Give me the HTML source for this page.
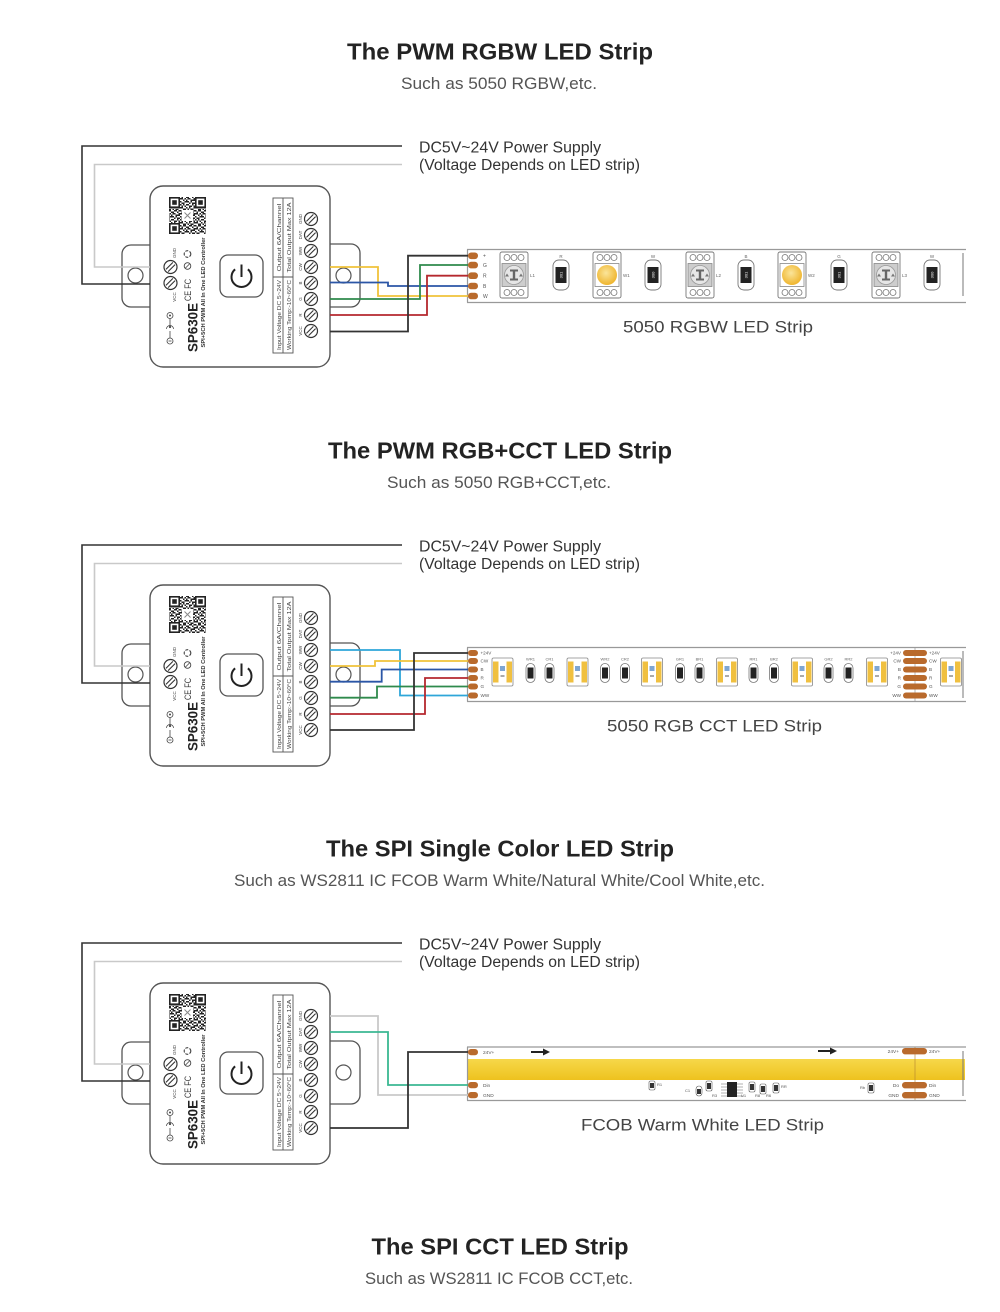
<!DOCTYPE html>
<html><head><meta charset="utf-8"><style>html,body{margin:0;padding:0;background:#fff}svg{display:block}</style></head>
<body>
<svg width="1000" height="1312" viewBox="0 0 1000 1312" xmlns="http://www.w3.org/2000/svg" font-family="'Liberation Sans', Arial, sans-serif">
<defs>
<pattern id="qr" width="15" height="15" patternUnits="userSpaceOnUse">
<rect width="15" height="15" fill="#fff"/>
<path fill="#222" d="M0 0h1.5v1.5h-1.5z M3 0h3v1.5h-3z M9 0h3v1.5h-3z M13.5 0h1.5v1.5h-1.5z
M1.5 1.5h1.5v1.5h-1.5z M6 1.5h3v1.5h-3z M12 1.5h1.5v1.5h-1.5z
M0 3h3v1.5h-3z M4.5 3h1.5v1.5h-1.5z M7.5 3h3v1.5h-3z M13.5 3h1.5v1.5h-1.5z
M3 4.5h1.5v1.5h-1.5z M6 4.5h1.5v1.5h-1.5z M10.5 4.5h4.5v1.5h-4.5z
M0 6h1.5v1.5h-1.5z M4.5 6h4.5v1.5h-4.5z M10.5 6h1.5v1.5h-1.5z
M1.5 7.5h3v1.5h-3z M9 7.5h1.5v1.5h-1.5z M12 7.5h3v1.5h-3z
M0 9h1.5v1.5h-1.5z M3 9h1.5v1.5h-1.5z M6 9h3v1.5h-3z M12 9h1.5v1.5h-1.5z
M1.5 10.5h1.5v1.5h-1.5z M4.5 10.5h1.5v1.5h-1.5z M9 10.5h3v1.5h-3z M13.5 10.5h1.5v1.5h-1.5z
M0 12h3v1.5h-3z M6 12h1.5v1.5h-1.5z M9 12h1.5v1.5h-1.5z M13.5 12h1.5v1.5h-1.5z
M3 13.5h3v1.5h-3z M7.5 13.5h1.5v1.5h-1.5z M10.5 13.5h3v1.5h-3z"/>
</pattern>
<radialGradient id="yel" cx="0.45" cy="0.4" r="0.6"><stop offset="0" stop-color="#fbe59a"/><stop offset="1" stop-color="#efb52e"/></radialGradient>
<linearGradient id="band" x1="0" y1="0" x2="0" y2="1"><stop offset="0" stop-color="#f6d84a"/><stop offset="1" stop-color="#eec21e"/></linearGradient>
</defs>
<rect width="1000" height="1312" fill="#fff"/>

<!-- ===== Titles ===== -->
<g font-weight="bold" fill="#232323" font-size="23" text-anchor="middle">
<text x="500" y="59.5" textLength="306" lengthAdjust="spacingAndGlyphs">The PWM RGBW LED Strip</text>
<text x="500" y="458.5" textLength="344" lengthAdjust="spacingAndGlyphs">The PWM RGB+CCT LED Strip</text>
<text x="500" y="856.5" textLength="348" lengthAdjust="spacingAndGlyphs">The SPI Single Color LED Strip</text>
<text x="500" y="1254.5" textLength="257" lengthAdjust="spacingAndGlyphs">The SPI CCT LED Strip</text>
</g>
<g fill="#555" font-size="16.5" text-anchor="middle">
<text x="499" y="89" textLength="196" lengthAdjust="spacingAndGlyphs">Such as 5050 RGBW,etc.</text>
<text x="499" y="488" textLength="224" lengthAdjust="spacingAndGlyphs">Such as 5050 RGB+CCT,etc.</text>
<text x="499.5" y="886" textLength="531" lengthAdjust="spacingAndGlyphs">Such as WS2811 IC FCOB Warm White/Natural White/Cool White,etc.</text>
<text x="499" y="1284" textLength="268" lengthAdjust="spacingAndGlyphs">Such as WS2811 IC FCOB CCT,etc.</text>
</g>

<!-- Power supply texts -->
<g fill="#333" font-size="15.5">
<text x="419" y="152.5" textLength="182" lengthAdjust="spacingAndGlyphs">DC5V~24V Power Supply</text>
<text x="419" y="170" textLength="221" lengthAdjust="spacingAndGlyphs">(Voltage Depends on LED strip)</text>
<text x="419" y="551.5" textLength="182" lengthAdjust="spacingAndGlyphs">DC5V~24V Power Supply</text>
<text x="419" y="569" textLength="221" lengthAdjust="spacingAndGlyphs">(Voltage Depends on LED strip)</text>
<text x="419" y="949.5" textLength="182" lengthAdjust="spacingAndGlyphs">DC5V~24V Power Supply</text>
<text x="419" y="967" textLength="221" lengthAdjust="spacingAndGlyphs">(Voltage Depends on LED strip)</text>
</g>

<!-- Strip labels -->
<g fill="#444" font-size="17">
<text x="623" y="332.5" textLength="190" lengthAdjust="spacingAndGlyphs">5050 RGBW LED Strip</text>
<text x="607" y="731.5" textLength="215" lengthAdjust="spacingAndGlyphs">5050 RGB CCT LED Strip</text>
<text x="581" y="1130.5" textLength="243" lengthAdjust="spacingAndGlyphs">FCOB Warm White LED Strip</text>
</g>

<!-- ===== Controller section 1 ===== -->
<g id="c1">
<rect x="122" y="245" width="40" height="62" rx="9" fill="#fff" stroke="#555" stroke-width="1.3"/>
<rect x="318" y="244" width="42" height="63" rx="9" fill="#fff" stroke="#555" stroke-width="1.3"/>
<circle cx="135.5" cy="275.5" r="7.5" fill="#fff" stroke="#555" stroke-width="1.2"/>
<circle cx="343.5" cy="275.5" r="7.5" fill="#fff" stroke="#555" stroke-width="1.2"/>
<rect x="150" y="186" width="180" height="181" rx="13" fill="#fff" stroke="#555" stroke-width="1.4"/>
<rect x="169" y="197" width="37" height="37" fill="url(#qr)"/>
<rect x="169" y="197" width="11" height="11" fill="#222"/><rect x="170.6" y="198.6" width="7.8" height="7.8" fill="#fff"/><rect x="172.2" y="200.2" width="4.6" height="4.6" fill="#222"/>
<rect x="195" y="197" width="11" height="11" fill="#222"/><rect x="196.6" y="198.6" width="7.8" height="7.8" fill="#fff"/><rect x="198.2" y="200.2" width="4.6" height="4.6" fill="#222"/>
<rect x="169" y="223" width="11" height="11" fill="#222"/><rect x="170.6" y="224.6" width="7.8" height="7.8" fill="#fff"/><rect x="172.2" y="226.2" width="4.6" height="4.6" fill="#222"/>
<rect x="182" y="210" width="11" height="11" fill="#fff"/>
<path d="M184.5 212.5 l6 6 M190.5 212.5 l-6 6" stroke="#888" stroke-width="1"/>
<rect x="220" y="255" width="43" height="42" rx="8" fill="#fff" stroke="#555" stroke-width="1.3"/>
<path d="M235.1 269.3 A10 10 0 1 0 247.9 269.3" fill="none" stroke="#222" stroke-width="2"/>
<line x1="241.5" y1="264.5" x2="241.5" y2="277" stroke="#222" stroke-width="2"/>
<g fill="#fff" stroke="#333" stroke-width="1.2">
<circle cx="170.5" cy="267" r="6.5"/><circle cx="170.5" cy="283" r="6.5"/>
</g>
<path d="M165.9 269.4 L172.9 262.4 M168.1 271.6 L175.1 264.6 M165.9 285.4 L172.9 278.4 M168.1 287.6 L175.1 280.6" stroke="#333" stroke-width="1.1"/>
<g fill="#444" font-size="4.5" text-anchor="middle">
<text transform="translate(176,253) rotate(-90)">GND</text>
<text transform="translate(176,297) rotate(-90)">VCC</text>
</g>
<text transform="translate(191,290) rotate(-90)" font-size="9" fill="#333" text-anchor="middle" textLength="22" lengthAdjust="spacingAndGlyphs">CE FC</text>
<circle cx="187.5" cy="266" r="3.3" fill="none" stroke="#444" stroke-width="0.9"/>
<path d="M185.5 268 l4 -4" stroke="#444" stroke-width="0.8"/>
<circle cx="187.5" cy="254" r="3.3" fill="none" stroke="#444" stroke-width="1.1" stroke-dasharray="3 1.4"/>
<g stroke="#444" stroke-width="0.8" fill="none">
<circle cx="170" cy="341" r="3"/><line x1="168.5" y1="341" x2="171.5" y2="341"/>
<line x1="170" y1="338" x2="170" y2="331"/>
<path d="M166.5 329 A3.5 3.5 0 0 1 173.5 329"/>
<line x1="170" y1="327" x2="170" y2="318.5"/>
<circle cx="170" cy="315.5" r="3"/>
</g>
<circle cx="170" cy="327" r="1.1" fill="#444"/><circle cx="170" cy="315.5" r="1" fill="#444"/>
<text transform="translate(197.5,327.5) rotate(-90)" font-size="14" font-weight="bold" fill="#222" text-anchor="middle" textLength="49" lengthAdjust="spacingAndGlyphs">SP630E</text>
<text transform="translate(205,292.5) rotate(-90)" font-size="5.2" font-weight="bold" fill="#333" text-anchor="middle" textLength="110" lengthAdjust="spacingAndGlyphs">SPI+5CH PWM All In One LED Controller</text>
<rect x="273" y="198" width="20" height="155" fill="none" stroke="#555" stroke-width="0.9"/>
<line x1="283" y1="198" x2="283" y2="353" stroke="#555" stroke-width="0.9"/>
<line x1="273" y1="277" x2="293" y2="277" stroke="#555" stroke-width="0.9"/>
<g fill="#444" font-size="5.5" text-anchor="middle">
<text transform="translate(281,237.5) rotate(-90)" textLength="68" lengthAdjust="spacingAndGlyphs">Output 6A/Channel</text>
<text transform="translate(291,237.5) rotate(-90)" textLength="70" lengthAdjust="spacingAndGlyphs">Total Output Max 12A</text>
<text transform="translate(281,315) rotate(-90)" textLength="70" lengthAdjust="spacingAndGlyphs">Input Voltage DC 5~24V</text>
<text transform="translate(291,315) rotate(-90)" textLength="70" lengthAdjust="spacingAndGlyphs">Working Temp:-10~60°C</text>
</g>
<g fill="#fff" stroke="#333" stroke-width="1.2">
<circle cx="311" cy="219" r="6.5"/><circle cx="311" cy="235" r="6.5"/><circle cx="311" cy="251" r="6.5"/><circle cx="311" cy="267" r="6.5"/>
<circle cx="311" cy="283" r="6.5"/><circle cx="311" cy="299" r="6.5"/><circle cx="311" cy="315" r="6.5"/><circle cx="311" cy="331" r="6.5"/>
</g>
<g stroke="#333" stroke-width="1.1">
<path d="M306.4 221.4 L313.4 214.4 M308.6 223.6 L315.6 216.6"/>
<path d="M306.4 237.4 L313.4 230.4 M308.6 239.6 L315.6 232.6"/>
<path d="M306.4 253.4 L313.4 246.4 M308.6 255.6 L315.6 248.6"/>
<path d="M306.4 269.4 L313.4 262.4 M308.6 271.6 L315.6 264.6"/>
<path d="M306.4 285.4 L313.4 278.4 M308.6 287.6 L315.6 280.6"/>
<path d="M306.4 301.4 L313.4 294.4 M308.6 303.6 L315.6 296.6"/>
<path d="M306.4 317.4 L313.4 310.4 M308.6 319.6 L315.6 312.6"/>
<path d="M306.4 333.4 L313.4 326.4 M308.6 335.6 L315.6 328.6"/>
</g>
<g fill="#444" font-size="4.5" text-anchor="middle">
<text transform="translate(302,219) rotate(-90)">GND</text>
<text transform="translate(302,235) rotate(-90)">DAT</text>
<text transform="translate(302,251) rotate(-90)">WW</text>
<text transform="translate(302,267) rotate(-90)">CW</text>
<text transform="translate(302,283) rotate(-90)">B</text>
<text transform="translate(302,299) rotate(-90)">G</text>
<text transform="translate(302,315) rotate(-90)">R</text>
<text transform="translate(302,331) rotate(-90)">VCC</text>
</g>
</g>

<!-- ===== Controller section 2 ===== -->
<g transform="translate(0,399)">
<rect x="122" y="245" width="40" height="62" rx="9" fill="#fff" stroke="#555" stroke-width="1.3"/>
<rect x="318" y="244" width="42" height="63" rx="9" fill="#fff" stroke="#555" stroke-width="1.3"/>
<circle cx="135.5" cy="275.5" r="7.5" fill="#fff" stroke="#555" stroke-width="1.2"/>
<circle cx="343.5" cy="275.5" r="7.5" fill="#fff" stroke="#555" stroke-width="1.2"/>
<rect x="150" y="186" width="180" height="181" rx="13" fill="#fff" stroke="#555" stroke-width="1.4"/>
<rect x="169" y="197" width="37" height="37" fill="url(#qr)"/>
<rect x="169" y="197" width="11" height="11" fill="#222"/><rect x="170.6" y="198.6" width="7.8" height="7.8" fill="#fff"/><rect x="172.2" y="200.2" width="4.6" height="4.6" fill="#222"/>
<rect x="195" y="197" width="11" height="11" fill="#222"/><rect x="196.6" y="198.6" width="7.8" height="7.8" fill="#fff"/><rect x="198.2" y="200.2" width="4.6" height="4.6" fill="#222"/>
<rect x="169" y="223" width="11" height="11" fill="#222"/><rect x="170.6" y="224.6" width="7.8" height="7.8" fill="#fff"/><rect x="172.2" y="226.2" width="4.6" height="4.6" fill="#222"/>
<rect x="182" y="210" width="11" height="11" fill="#fff"/>
<path d="M184.5 212.5 l6 6 M190.5 212.5 l-6 6" stroke="#888" stroke-width="1"/>
<rect x="220" y="255" width="43" height="42" rx="8" fill="#fff" stroke="#555" stroke-width="1.3"/>
<path d="M235.1 269.3 A10 10 0 1 0 247.9 269.3" fill="none" stroke="#222" stroke-width="2"/>
<line x1="241.5" y1="264.5" x2="241.5" y2="277" stroke="#222" stroke-width="2"/>
<g fill="#fff" stroke="#333" stroke-width="1.2">
<circle cx="170.5" cy="267" r="6.5"/><circle cx="170.5" cy="283" r="6.5"/>
</g>
<path d="M165.9 269.4 L172.9 262.4 M168.1 271.6 L175.1 264.6 M165.9 285.4 L172.9 278.4 M168.1 287.6 L175.1 280.6" stroke="#333" stroke-width="1.1"/>
<g fill="#444" font-size="4.5" text-anchor="middle">
<text transform="translate(176,253) rotate(-90)">GND</text>
<text transform="translate(176,297) rotate(-90)">VCC</text>
</g>
<text transform="translate(191,290) rotate(-90)" font-size="9" fill="#333" text-anchor="middle" textLength="22" lengthAdjust="spacingAndGlyphs">CE FC</text>
<circle cx="187.5" cy="266" r="3.3" fill="none" stroke="#444" stroke-width="0.9"/>
<path d="M185.5 268 l4 -4" stroke="#444" stroke-width="0.8"/>
<circle cx="187.5" cy="254" r="3.3" fill="none" stroke="#444" stroke-width="1.1" stroke-dasharray="3 1.4"/>
<g stroke="#444" stroke-width="0.8" fill="none">
<circle cx="170" cy="341" r="3"/><line x1="168.5" y1="341" x2="171.5" y2="341"/>
<line x1="170" y1="338" x2="170" y2="331"/>
<path d="M166.5 329 A3.5 3.5 0 0 1 173.5 329"/>
<line x1="170" y1="327" x2="170" y2="318.5"/>
<circle cx="170" cy="315.5" r="3"/>
</g>
<circle cx="170" cy="327" r="1.1" fill="#444"/><circle cx="170" cy="315.5" r="1" fill="#444"/>
<text transform="translate(197.5,327.5) rotate(-90)" font-size="14" font-weight="bold" fill="#222" text-anchor="middle" textLength="49" lengthAdjust="spacingAndGlyphs">SP630E</text>
<text transform="translate(205,292.5) rotate(-90)" font-size="5.2" font-weight="bold" fill="#333" text-anchor="middle" textLength="110" lengthAdjust="spacingAndGlyphs">SPI+5CH PWM All In One LED Controller</text>
<rect x="273" y="198" width="20" height="155" fill="none" stroke="#555" stroke-width="0.9"/>
<line x1="283" y1="198" x2="283" y2="353" stroke="#555" stroke-width="0.9"/>
<line x1="273" y1="277" x2="293" y2="277" stroke="#555" stroke-width="0.9"/>
<g fill="#444" font-size="5.5" text-anchor="middle">
<text transform="translate(281,237.5) rotate(-90)" textLength="68" lengthAdjust="spacingAndGlyphs">Output 6A/Channel</text>
<text transform="translate(291,237.5) rotate(-90)" textLength="70" lengthAdjust="spacingAndGlyphs">Total Output Max 12A</text>
<text transform="translate(281,315) rotate(-90)" textLength="70" lengthAdjust="spacingAndGlyphs">Input Voltage DC 5~24V</text>
<text transform="translate(291,315) rotate(-90)" textLength="70" lengthAdjust="spacingAndGlyphs">Working Temp:-10~60°C</text>
</g>
<g fill="#fff" stroke="#333" stroke-width="1.2">
<circle cx="311" cy="219" r="6.5"/><circle cx="311" cy="235" r="6.5"/><circle cx="311" cy="251" r="6.5"/><circle cx="311" cy="267" r="6.5"/>
<circle cx="311" cy="283" r="6.5"/><circle cx="311" cy="299" r="6.5"/><circle cx="311" cy="315" r="6.5"/><circle cx="311" cy="331" r="6.5"/>
</g>
<g stroke="#333" stroke-width="1.1">
<path d="M306.4 221.4 L313.4 214.4 M308.6 223.6 L315.6 216.6"/>
<path d="M306.4 237.4 L313.4 230.4 M308.6 239.6 L315.6 232.6"/>
<path d="M306.4 253.4 L313.4 246.4 M308.6 255.6 L315.6 248.6"/>
<path d="M306.4 269.4 L313.4 262.4 M308.6 271.6 L315.6 264.6"/>
<path d="M306.4 285.4 L313.4 278.4 M308.6 287.6 L315.6 280.6"/>
<path d="M306.4 301.4 L313.4 294.4 M308.6 303.6 L315.6 296.6"/>
<path d="M306.4 317.4 L313.4 310.4 M308.6 319.6 L315.6 312.6"/>
<path d="M306.4 333.4 L313.4 326.4 M308.6 335.6 L315.6 328.6"/>
</g>
<g fill="#444" font-size="4.5" text-anchor="middle">
<text transform="translate(302,219) rotate(-90)">GND</text>
<text transform="translate(302,235) rotate(-90)">DAT</text>
<text transform="translate(302,251) rotate(-90)">WW</text>
<text transform="translate(302,267) rotate(-90)">CW</text>
<text transform="translate(302,283) rotate(-90)">B</text>
<text transform="translate(302,299) rotate(-90)">G</text>
<text transform="translate(302,315) rotate(-90)">R</text>
<text transform="translate(302,331) rotate(-90)">VCC</text>
</g>
</g>

<!-- ===== Controller section 3 ===== -->
<g transform="translate(0,797)">
<rect x="122" y="245" width="40" height="62" rx="9" fill="#fff" stroke="#555" stroke-width="1.3"/>
<rect x="318" y="244" width="42" height="63" rx="9" fill="#fff" stroke="#555" stroke-width="1.3"/>
<circle cx="135.5" cy="275.5" r="7.5" fill="#fff" stroke="#555" stroke-width="1.2"/>
<circle cx="343.5" cy="275.5" r="7.5" fill="#fff" stroke="#555" stroke-width="1.2"/>
<rect x="150" y="186" width="180" height="181" rx="13" fill="#fff" stroke="#555" stroke-width="1.4"/>
<rect x="169" y="197" width="37" height="37" fill="url(#qr)"/>
<rect x="169" y="197" width="11" height="11" fill="#222"/><rect x="170.6" y="198.6" width="7.8" height="7.8" fill="#fff"/><rect x="172.2" y="200.2" width="4.6" height="4.6" fill="#222"/>
<rect x="195" y="197" width="11" height="11" fill="#222"/><rect x="196.6" y="198.6" width="7.8" height="7.8" fill="#fff"/><rect x="198.2" y="200.2" width="4.6" height="4.6" fill="#222"/>
<rect x="169" y="223" width="11" height="11" fill="#222"/><rect x="170.6" y="224.6" width="7.8" height="7.8" fill="#fff"/><rect x="172.2" y="226.2" width="4.6" height="4.6" fill="#222"/>
<rect x="182" y="210" width="11" height="11" fill="#fff"/>
<path d="M184.5 212.5 l6 6 M190.5 212.5 l-6 6" stroke="#888" stroke-width="1"/>
<rect x="220" y="255" width="43" height="42" rx="8" fill="#fff" stroke="#555" stroke-width="1.3"/>
<path d="M235.1 269.3 A10 10 0 1 0 247.9 269.3" fill="none" stroke="#222" stroke-width="2"/>
<line x1="241.5" y1="264.5" x2="241.5" y2="277" stroke="#222" stroke-width="2"/>
<g fill="#fff" stroke="#333" stroke-width="1.2">
<circle cx="170.5" cy="267" r="6.5"/><circle cx="170.5" cy="283" r="6.5"/>
</g>
<path d="M165.9 269.4 L172.9 262.4 M168.1 271.6 L175.1 264.6 M165.9 285.4 L172.9 278.4 M168.1 287.6 L175.1 280.6" stroke="#333" stroke-width="1.1"/>
<g fill="#444" font-size="4.5" text-anchor="middle">
<text transform="translate(176,253) rotate(-90)">GND</text>
<text transform="translate(176,297) rotate(-90)">VCC</text>
</g>
<text transform="translate(191,290) rotate(-90)" font-size="9" fill="#333" text-anchor="middle" textLength="22" lengthAdjust="spacingAndGlyphs">CE FC</text>
<circle cx="187.5" cy="266" r="3.3" fill="none" stroke="#444" stroke-width="0.9"/>
<path d="M185.5 268 l4 -4" stroke="#444" stroke-width="0.8"/>
<circle cx="187.5" cy="254" r="3.3" fill="none" stroke="#444" stroke-width="1.1" stroke-dasharray="3 1.4"/>
<g stroke="#444" stroke-width="0.8" fill="none">
<circle cx="170" cy="341" r="3"/><line x1="168.5" y1="341" x2="171.5" y2="341"/>
<line x1="170" y1="338" x2="170" y2="331"/>
<path d="M166.5 329 A3.5 3.5 0 0 1 173.5 329"/>
<line x1="170" y1="327" x2="170" y2="318.5"/>
<circle cx="170" cy="315.5" r="3"/>
</g>
<circle cx="170" cy="327" r="1.1" fill="#444"/><circle cx="170" cy="315.5" r="1" fill="#444"/>
<text transform="translate(197.5,327.5) rotate(-90)" font-size="14" font-weight="bold" fill="#222" text-anchor="middle" textLength="49" lengthAdjust="spacingAndGlyphs">SP630E</text>
<text transform="translate(205,292.5) rotate(-90)" font-size="5.2" font-weight="bold" fill="#333" text-anchor="middle" textLength="110" lengthAdjust="spacingAndGlyphs">SPI+5CH PWM All In One LED Controller</text>
<rect x="273" y="198" width="20" height="155" fill="none" stroke="#555" stroke-width="0.9"/>
<line x1="283" y1="198" x2="283" y2="353" stroke="#555" stroke-width="0.9"/>
<line x1="273" y1="277" x2="293" y2="277" stroke="#555" stroke-width="0.9"/>
<g fill="#444" font-size="5.5" text-anchor="middle">
<text transform="translate(281,237.5) rotate(-90)" textLength="68" lengthAdjust="spacingAndGlyphs">Output 6A/Channel</text>
<text transform="translate(291,237.5) rotate(-90)" textLength="70" lengthAdjust="spacingAndGlyphs">Total Output Max 12A</text>
<text transform="translate(281,315) rotate(-90)" textLength="70" lengthAdjust="spacingAndGlyphs">Input Voltage DC 5~24V</text>
<text transform="translate(291,315) rotate(-90)" textLength="70" lengthAdjust="spacingAndGlyphs">Working Temp:-10~60°C</text>
</g>
<g fill="#fff" stroke="#333" stroke-width="1.2">
<circle cx="311" cy="219" r="6.5"/><circle cx="311" cy="235" r="6.5"/><circle cx="311" cy="251" r="6.5"/><circle cx="311" cy="267" r="6.5"/>
<circle cx="311" cy="283" r="6.5"/><circle cx="311" cy="299" r="6.5"/><circle cx="311" cy="315" r="6.5"/><circle cx="311" cy="331" r="6.5"/>
</g>
<g stroke="#333" stroke-width="1.1">
<path d="M306.4 221.4 L313.4 214.4 M308.6 223.6 L315.6 216.6"/>
<path d="M306.4 237.4 L313.4 230.4 M308.6 239.6 L315.6 232.6"/>
<path d="M306.4 253.4 L313.4 246.4 M308.6 255.6 L315.6 248.6"/>
<path d="M306.4 269.4 L313.4 262.4 M308.6 271.6 L315.6 264.6"/>
<path d="M306.4 285.4 L313.4 278.4 M308.6 287.6 L315.6 280.6"/>
<path d="M306.4 301.4 L313.4 294.4 M308.6 303.6 L315.6 296.6"/>
<path d="M306.4 317.4 L313.4 310.4 M308.6 319.6 L315.6 312.6"/>
<path d="M306.4 333.4 L313.4 326.4 M308.6 335.6 L315.6 328.6"/>
</g>
<g fill="#444" font-size="4.5" text-anchor="middle">
<text transform="translate(302,219) rotate(-90)">GND</text>
<text transform="translate(302,235) rotate(-90)">DAT</text>
<text transform="translate(302,251) rotate(-90)">WW</text>
<text transform="translate(302,267) rotate(-90)">CW</text>
<text transform="translate(302,283) rotate(-90)">B</text>
<text transform="translate(302,299) rotate(-90)">G</text>
<text transform="translate(302,315) rotate(-90)">R</text>
<text transform="translate(302,331) rotate(-90)">VCC</text>
</g>
</g>

<!-- ===== Strip 1 (RGBW) ===== -->
<rect x="467.5" y="249.5" width="497" height="53" fill="#fff" stroke="none"/>
<g stroke="#999" stroke-width="1.2">
<line x1="467" y1="249.5" x2="966" y2="249.5"/>
<line x1="467" y1="302.5" x2="966" y2="302.5"/>
<line x1="467.5" y1="249.5" x2="467.5" y2="302.5"/>
</g>
<line x1="963" y1="253" x2="963" y2="296" stroke="#777" stroke-width="1"/>
<g fill="#b96a2c">
<rect x="468" y="252.5" width="10" height="6.6" rx="3.2"/>
<rect x="468" y="261.8" width="10" height="6.6" rx="3.2"/>
<rect x="468" y="272.4" width="10" height="6.6" rx="3.2"/>
<rect x="468" y="282.7" width="10" height="6.6" rx="3.2"/>
<rect x="468" y="292.7" width="10" height="6.6" rx="3.2"/>
</g>
<g fill="#555" font-size="5">
<text x="483" y="257.5">+</text><text x="483" y="267">G</text><text x="483" y="277.5">R</text><text x="483" y="288">B</text><text x="483" y="298">W</text>
</g>
<!-- RGB LEDs -->
<g transform="translate(514,275)">
<rect x="-14" y="-23" width="28" height="46" rx="2" fill="#fff" stroke="#777" stroke-width="0.9"/>
<g fill="#fff" stroke="#777" stroke-width="0.8"><circle cx="-7" cy="-17.5" r="3"/><circle cx="0" cy="-17.5" r="3"/><circle cx="7" cy="-17.5" r="3"/><circle cx="-7" cy="17.5" r="3"/><circle cx="0" cy="17.5" r="3"/><circle cx="7" cy="17.5" r="3"/></g>
<rect x="-12" y="-11.5" width="24" height="23" fill="#cdcdcd" stroke="#888" stroke-width="0.8"/>
<circle r="9.5" fill="#e6e6e6" stroke="#999" stroke-width="0.8"/>
<rect x="-1.2" y="-4.5" width="2.4" height="9" fill="#666"/><rect x="-4" y="-5.5" width="8" height="2" fill="#666"/><rect x="-4" y="3.5" width="8" height="2" fill="#666"/>
<path d="M-7 -1.5 l2 3 h-4z M7 -1.5 l2 3 h-4z" fill="#777"/>
</g>
<g transform="translate(700,275)">
<rect x="-14" y="-23" width="28" height="46" rx="2" fill="#fff" stroke="#777" stroke-width="0.9"/>
<g fill="#fff" stroke="#777" stroke-width="0.8"><circle cx="-7" cy="-17.5" r="3"/><circle cx="0" cy="-17.5" r="3"/><circle cx="7" cy="-17.5" r="3"/><circle cx="-7" cy="17.5" r="3"/><circle cx="0" cy="17.5" r="3"/><circle cx="7" cy="17.5" r="3"/></g>
<rect x="-12" y="-11.5" width="24" height="23" fill="#cdcdcd" stroke="#888" stroke-width="0.8"/>
<circle r="9.5" fill="#e6e6e6" stroke="#999" stroke-width="0.8"/>
<rect x="-1.2" y="-4.5" width="2.4" height="9" fill="#666"/><rect x="-4" y="-5.5" width="8" height="2" fill="#666"/><rect x="-4" y="3.5" width="8" height="2" fill="#666"/>
<path d="M-7 -1.5 l2 3 h-4z M7 -1.5 l2 3 h-4z" fill="#777"/>
</g>
<g transform="translate(886,275)">
<rect x="-14" y="-23" width="28" height="46" rx="2" fill="#fff" stroke="#777" stroke-width="0.9"/>
<g fill="#fff" stroke="#777" stroke-width="0.8"><circle cx="-7" cy="-17.5" r="3"/><circle cx="0" cy="-17.5" r="3"/><circle cx="7" cy="-17.5" r="3"/><circle cx="-7" cy="17.5" r="3"/><circle cx="0" cy="17.5" r="3"/><circle cx="7" cy="17.5" r="3"/></g>
<rect x="-12" y="-11.5" width="24" height="23" fill="#cdcdcd" stroke="#888" stroke-width="0.8"/>
<circle r="9.5" fill="#e6e6e6" stroke="#999" stroke-width="0.8"/>
<rect x="-1.2" y="-4.5" width="2.4" height="9" fill="#666"/><rect x="-4" y="-5.5" width="8" height="2" fill="#666"/><rect x="-4" y="3.5" width="8" height="2" fill="#666"/>
<path d="M-7 -1.5 l2 3 h-4z M7 -1.5 l2 3 h-4z" fill="#777"/>
</g>
<!-- W LEDs -->
<g transform="translate(607,275)">
<rect x="-14" y="-23" width="28" height="46" rx="2" fill="#fff" stroke="#777" stroke-width="0.9"/>
<g fill="#fff" stroke="#777" stroke-width="0.8"><circle cx="-7" cy="-17.5" r="3"/><circle cx="0" cy="-17.5" r="3"/><circle cx="7" cy="-17.5" r="3"/><circle cx="-7" cy="17.5" r="3"/><circle cx="0" cy="17.5" r="3"/><circle cx="7" cy="17.5" r="3"/></g>
<rect x="-12" y="-11.5" width="24" height="23" fill="#fff" stroke="#888" stroke-width="0.8"/>
<circle r="10" fill="url(#yel)"/>
</g>
<g transform="translate(792,275)">
<rect x="-14" y="-23" width="28" height="46" rx="2" fill="#fff" stroke="#777" stroke-width="0.9"/>
<g fill="#fff" stroke="#777" stroke-width="0.8"><circle cx="-7" cy="-17.5" r="3"/><circle cx="0" cy="-17.5" r="3"/><circle cx="7" cy="-17.5" r="3"/><circle cx="-7" cy="17.5" r="3"/><circle cx="0" cy="17.5" r="3"/><circle cx="7" cy="17.5" r="3"/></g>
<rect x="-12" y="-11.5" width="24" height="23" fill="#fff" stroke="#888" stroke-width="0.8"/>
<circle r="10" fill="url(#yel)"/>
</g>
<!-- resistors strip 1 -->
<g stroke="#777" stroke-width="0.9" fill="#fff">
<rect x="553" y="260" width="16" height="30" rx="6"/>
<rect x="645" y="260" width="16" height="30" rx="6"/>
<rect x="738" y="260" width="16" height="30" rx="6"/>
<rect x="831" y="260" width="16" height="30" rx="6"/>
<rect x="924" y="260" width="16" height="30" rx="6"/>
</g>
<g fill="#222">
<rect x="555.5" y="267" width="11" height="16"/>
<rect x="647.5" y="267" width="11" height="16"/>
<rect x="740.5" y="267" width="11" height="16"/>
<rect x="833.5" y="267" width="11" height="16"/>
<rect x="926.5" y="267" width="11" height="16"/>
</g>
<g fill="#fff" font-size="4" text-anchor="middle">
<text transform="translate(562.5,275) rotate(-90)">301</text>
<text transform="translate(654.5,275) rotate(-90)">300</text>
<text transform="translate(747.5,275) rotate(-90)">301</text>
<text transform="translate(840.5,275) rotate(-90)">301</text>
<text transform="translate(933.5,275) rotate(-90)">300</text>
</g>
<g fill="#666" font-size="4.5" text-anchor="middle">
<text x="561" y="258">R</text><text x="653" y="258">W</text><text x="746" y="258">B</text><text x="839" y="258">G</text><text x="932" y="258">W</text>
</g>
<g fill="#666" font-size="4.5">
<text x="530" y="277">L1</text><text x="623" y="277">W1</text><text x="716" y="277">L2</text><text x="808" y="277">W2</text><text x="902" y="277">L3</text>
</g>

<!-- ===== Strip 2 (RGB CCT) ===== -->
<g stroke="#999" stroke-width="1.2">
<line x1="467" y1="647.5" x2="966" y2="647.5"/>
<line x1="467" y1="701.5" x2="966" y2="701.5"/>
<line x1="467.5" y1="647.5" x2="467.5" y2="701.5"/>
</g>
<line x1="963" y1="651" x2="963" y2="698" stroke="#777" stroke-width="1"/>
<line x1="915" y1="648" x2="915" y2="701" stroke="#999" stroke-width="0.7"/>
<g fill="#b96a2c">
<rect x="468" y="650" width="10" height="6" rx="3"/><rect x="468" y="658" width="10" height="6" rx="3"/><rect x="468" y="666.5" width="10" height="6" rx="3"/>
<rect x="468" y="675" width="10" height="6" rx="3"/><rect x="468" y="683.5" width="10" height="6" rx="3"/><rect x="468" y="692.5" width="10" height="6" rx="3"/>
<rect x="903" y="650" width="24" height="6" rx="3"/><rect x="903" y="658" width="24" height="6" rx="3"/><rect x="903" y="666.5" width="24" height="6" rx="3"/>
<rect x="903" y="675" width="24" height="6" rx="3"/><rect x="903" y="683.5" width="24" height="6" rx="3"/><rect x="903" y="692.5" width="24" height="6" rx="3"/>
</g>
<g fill="#555" font-size="4.6">
<text x="480.5" y="654.7">+24V</text><text x="480.5" y="662.7">CW</text><text x="480.5" y="671.2">B</text><text x="480.5" y="679.7">R</text><text x="480.5" y="688.2">G</text><text x="480.5" y="697.2">WW</text>
<text x="929" y="654.7">+24V</text><text x="929" y="662.7">CW</text><text x="929" y="671.2">B</text><text x="929" y="679.7">R</text><text x="929" y="688.2">G</text><text x="929" y="697.2">WW</text>
</g>
<g fill="#555" font-size="4.6" text-anchor="end">
<text x="901" y="654.7">+24V</text><text x="901" y="662.7">CW</text><text x="901" y="671.2">B</text><text x="901" y="679.7">R</text><text x="901" y="688.2">G</text><text x="901" y="697.2">WW</text>
</g>
<!-- CCT LEDs -->
<g stroke="#888" stroke-width="0.8" fill="#fff">
<rect x="492" y="658" width="21" height="28" rx="1.5"/>
<rect x="567" y="658" width="21" height="28" rx="1.5"/>
<rect x="641.5" y="658" width="21" height="28" rx="1.5"/>
<rect x="716.5" y="658" width="21" height="28" rx="1.5"/>
<rect x="791.5" y="658" width="21" height="28" rx="1.5"/>
<rect x="866.5" y="658" width="21" height="28" rx="1.5"/>
<rect x="940.5" y="658" width="21" height="28" rx="1.5"/>
</g>
<g fill="#f0c040">
<rect x="493" y="661.5" width="5.5" height="21"/><rect x="506.5" y="661.5" width="5.5" height="21"/>
<rect x="568" y="661.5" width="5.5" height="21"/><rect x="581.5" y="661.5" width="5.5" height="21"/>
<rect x="642.5" y="661.5" width="5.5" height="21"/><rect x="656" y="661.5" width="5.5" height="21"/>
<rect x="717.5" y="661.5" width="5.5" height="21"/><rect x="731" y="661.5" width="5.5" height="21"/>
<rect x="792.5" y="661.5" width="5.5" height="21"/><rect x="806" y="661.5" width="5.5" height="21"/>
<rect x="867.5" y="661.5" width="5.5" height="21"/><rect x="881" y="661.5" width="5.5" height="21"/>
<rect x="941.5" y="661.5" width="5.5" height="21"/><rect x="955" y="661.5" width="5.5" height="21"/>
</g>
<g fill="#7fa6d2">
<rect x="500" y="666" width="5" height="5"/><rect x="575" y="666" width="5" height="5"/><rect x="649.5" y="666" width="5" height="5"/>
<rect x="724.5" y="666" width="5" height="5"/><rect x="799.5" y="666" width="5" height="5"/><rect x="874.5" y="666" width="5" height="5"/><rect x="948.5" y="666" width="5" height="5"/>
</g>
<g fill="#aaa">
<rect x="500.5" y="675" width="4" height="2"/><rect x="575.5" y="675" width="4" height="2"/><rect x="650" y="675" width="4" height="2"/>
<rect x="725" y="675" width="4" height="2"/><rect x="800" y="675" width="4" height="2"/><rect x="875" y="675" width="4" height="2"/><rect x="949" y="675" width="4" height="2"/>
</g>
<!-- CCT resistors -->
<g stroke="#777" stroke-width="0.8" fill="#fff">
<rect x="526" y="663.5" width="9" height="19" rx="4.5"/><rect x="545" y="663.5" width="9" height="19" rx="4.5"/>
<rect x="600.5" y="663.5" width="9" height="19" rx="4.5"/><rect x="620.5" y="663.5" width="9" height="19" rx="4.5"/>
<rect x="675.5" y="663.5" width="9" height="19" rx="4.5"/><rect x="695" y="663.5" width="9" height="19" rx="4.5"/>
<rect x="749" y="663.5" width="9" height="19" rx="4.5"/><rect x="769.5" y="663.5" width="9" height="19" rx="4.5"/>
<rect x="824" y="663.5" width="9" height="19" rx="4.5"/><rect x="844" y="663.5" width="9" height="19" rx="4.5"/>
</g>
<g fill="#222">
<rect x="527.5" y="667.5" width="6" height="11"/><rect x="546.5" y="667.5" width="6" height="11"/>
<rect x="602" y="667.5" width="6" height="11"/><rect x="622" y="667.5" width="6" height="11"/>
<rect x="677" y="667.5" width="6" height="11"/><rect x="696.5" y="667.5" width="6" height="11"/>
<rect x="750.5" y="667.5" width="6" height="11"/><rect x="771" y="667.5" width="6" height="11"/>
<rect x="825.5" y="667.5" width="6" height="11"/><rect x="845.5" y="667.5" width="6" height="11"/>
</g>
<g fill="#666" font-size="4" text-anchor="middle">
<text x="530.5" y="660.5">WR1</text><text x="549.5" y="660.5">CR1</text>
<text x="605" y="660.5">WR2</text><text x="625" y="660.5">CR2</text>
<text x="680" y="660.5">GR1</text><text x="699.5" y="660.5">BR1</text>
<text x="753.5" y="660.5">RR1</text><text x="774" y="660.5">BR2</text>
<text x="828.5" y="660.5">GR2</text><text x="848.5" y="660.5">RR2</text>
</g>

<!-- ===== Strip 3 (FCOB) ===== -->
<rect x="468" y="1059" width="497" height="21" fill="url(#band)"/>
<g stroke="#999" stroke-width="1.2">
<line x1="467" y1="1047" x2="966" y2="1047"/>
<line x1="467" y1="1100.5" x2="966" y2="1100.5"/>
<line x1="467.5" y1="1047" x2="467.5" y2="1100.5"/>
</g>
<line x1="963" y1="1051" x2="963" y2="1096" stroke="#777" stroke-width="1"/>
<line x1="915" y1="1047" x2="915" y2="1100" stroke="#b08030" stroke-width="0.6"/>
<g fill="#b96a2c">
<rect x="468" y="1049" width="10" height="6.2" rx="3"/><rect x="468" y="1082" width="10" height="6.2" rx="3"/><rect x="468" y="1092" width="10" height="6.2" rx="3"/>
<rect x="902" y="1048" width="25" height="6.4" rx="3.2"/><rect x="902" y="1082" width="25" height="6.4" rx="3.2"/><rect x="902" y="1092" width="25" height="6.4" rx="3.2"/>
</g>
<g fill="#555" font-size="4.8">
<text x="483" y="1053.8">24V+</text><text x="483" y="1086.8">Din</text><text x="483" y="1096.8">GND</text>
<text x="929" y="1053">24V+</text><text x="929" y="1087">Din</text><text x="929" y="1097">GND</text>
</g>
<g fill="#555" font-size="4.8" text-anchor="end">
<text x="899" y="1053">24V+</text><text x="899" y="1087">Do</text><text x="899" y="1097">GND</text>
</g>
<path d="M531 1052 H544" stroke="#222" stroke-width="2"/><path d="M543 1048.5 L550 1052 L543 1055.5Z" fill="#222"/>
<path d="M818 1051 H831" stroke="#222" stroke-width="2"/><path d="M830 1047.5 L837 1051 L830 1054.5Z" fill="#222"/>
<!-- small components -->
<g stroke="#555" stroke-width="0.6" fill="#fff">
<rect x="649" y="1081" width="6" height="9" rx="1.5"/>
<rect x="696" y="1086" width="6" height="10" rx="3"/>
<rect x="706" y="1081" width="6" height="10" rx="1.5"/>
<rect x="749" y="1082" width="6" height="10" rx="1.5"/>
<rect x="760" y="1084" width="6" height="10" rx="1.5"/>
<rect x="773" y="1083" width="6" height="10" rx="1.5"/>
<rect x="868" y="1083" width="6" height="10" rx="1.5"/>
</g>
<g fill="#333">
<rect x="650" y="1083" width="4" height="5"/><rect x="697" y="1089" width="4" height="5"/><rect x="707" y="1083" width="4" height="6"/>
<rect x="750" y="1084" width="4" height="6"/><rect x="761" y="1086" width="4" height="6"/><rect x="774" y="1085" width="4" height="6"/><rect x="869" y="1085" width="4" height="6"/>
<rect x="727" y="1082" width="10" height="15" fill="#222"/>
</g>
<path d="M721 1084h6M721 1087h6M721 1090h6M721 1093h6M721 1096h6M737 1084h6M737 1087h6M737 1090h6M737 1093h6M737 1096h6" stroke="#666" stroke-width="0.6"/>
<g fill="#555" font-size="4">
<text x="657" y="1086">R1</text><text x="685" y="1092">C1</text><text x="712" y="1097">R3</text><text x="741" y="1097">U1</text>
<text x="755" y="1097">R8</text><text x="766" y="1097">R6</text><text x="781" y="1088">RR</text><text x="860" y="1089">Rb</text>
</g>

<!-- ===== Power lines & wires ===== -->
<g fill="none" stroke-width="1.6" stroke-linejoin="miter">
<polyline points="402,146 82,146 82,284 150,284" stroke="#333"/>
<polyline points="402,164.5 94.5,164.5 94.5,267 150,267" stroke="#c9c9c9"/>
<polyline points="330,267 378,267 378,296 468,296" stroke="#f0c23a" stroke-width="1.8"/>
<polyline points="330,282.5 388,282.5 388,286 468,286" stroke="#2b56a6" stroke-width="1.8"/>
<polyline points="330,299 420,299 420,265 468,265" stroke="#2f8a4c" stroke-width="1.8"/>
<polyline points="330,315 427,315 427,275.7 468,275.7" stroke="#b5282e" stroke-width="1.8"/>
<polyline points="330,331.5 408,331.5 408,255.7 468,255.7" stroke="#333" stroke-width="1.8"/>
<polyline points="402,545 82,545 82,683 150,683" stroke="#333"/>
<polyline points="402,563.5 94.5,563.5 94.5,666 150,666" stroke="#c9c9c9"/>
<polyline points="330,650 400,650 400,695.5 468,695.5" stroke="#2ea6d9" stroke-width="1.8"/>
<polyline points="330,666 375,666 375,661 468,661" stroke="#f0c23a" stroke-width="1.8"/>
<polyline points="330,681.7 381.7,681.7 381.7,669.5 468,669.5" stroke="#2b56a6" stroke-width="1.8"/>
<polyline points="330,697.7 377,697.7 377,686.5 468,686.5" stroke="#2f8a4c" stroke-width="1.8"/>
<polyline points="330,714 425,714 425,678 468,678" stroke="#b5282e" stroke-width="1.8"/>
<polyline points="330,730 414,730 414,653 468,653" stroke="#333" stroke-width="1.8"/>
<polyline points="402,943 82,943 82,1081 150,1081" stroke="#333"/>
<polyline points="402,961.5 94.5,961.5 94.5,1064 150,1064" stroke="#c9c9c9"/>
<polyline points="330,1016 378,1016 378,1095 468,1095" stroke="#c9c9c9" stroke-width="1.8"/>
<polyline points="330,1032 388,1032 388,1085 468,1085" stroke="#3bb892" stroke-width="1.8"/>
<polyline points="330,1128 408,1128 408,1052 468,1052" stroke="#333" stroke-width="1.8"/>
</g>
</svg>
</body></html>
